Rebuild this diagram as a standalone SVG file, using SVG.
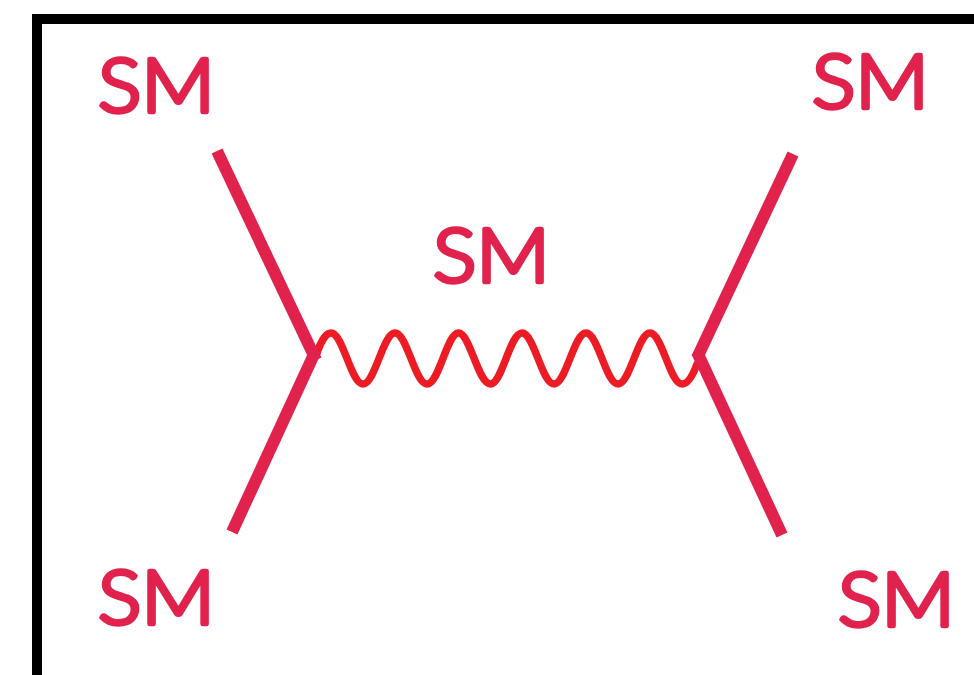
<svg xmlns="http://www.w3.org/2000/svg" width="974" height="675" viewBox="0 0 974 675">
<style>
.lbl{font-family:"Lato","Open Sans",sans-serif;font-weight:300;font-size:74px;fill:#e0224c;stroke:#e0224c;stroke-width:4.500;stroke-linejoin:round;stroke-linecap:round}
.line{fill:none;stroke:#e0224c;stroke-width:12}
.wave{fill:none;stroke:#ed1c24;stroke-width:7.500;stroke-linecap:round}
</style>
<rect width="974" height="675" fill="#fff"/>
<path id="frame" d="M37 700V19H1000" fill="none" stroke="#000" stroke-width="10"/>
<g id="connectors">
<path class="wave" d="M318 350C322 340 326 333 331 333C343 333 351 384 363 384C375 384 383 333 395 333C407 333 415 384 427 384C439 384 447 333 458.500 333C470 333 478 384 490.500 384C502 384 510 333 522 333C534 333 542 384 554 384C566 384 574 333 586 333C598 333 606 384 618 384C630 384 638 333 650 333C662 333 670 384 682 384C688 384 693 375 697 364"/>
<path class="line" d="M217 151L316 360"/>
<path class="line" d="M232 532L316 350"/>
<path class="line" d="M793 154L697 358"/>
<path class="line" d="M782 535L697 352"/>
</g>
<g id="node-top-left"><text class="lbl" x="98" y="112" textLength="117" lengthAdjust="spacingAndGlyphs">SM</text></g>
<g id="node-top-right"><text class="lbl" x="812" y="108" textLength="117" lengthAdjust="spacingAndGlyphs">SM</text></g>
<g id="node-middle"><text class="lbl" x="433" y="282" textLength="117" lengthAdjust="spacingAndGlyphs">SM</text></g>
<g id="node-bottom-left"><text class="lbl" x="98" y="624" textLength="117" lengthAdjust="spacingAndGlyphs">SM</text></g>
<g id="node-bottom-right"><text class="lbl" x="838" y="626" textLength="117" lengthAdjust="spacingAndGlyphs">SM</text></g>
</svg>
